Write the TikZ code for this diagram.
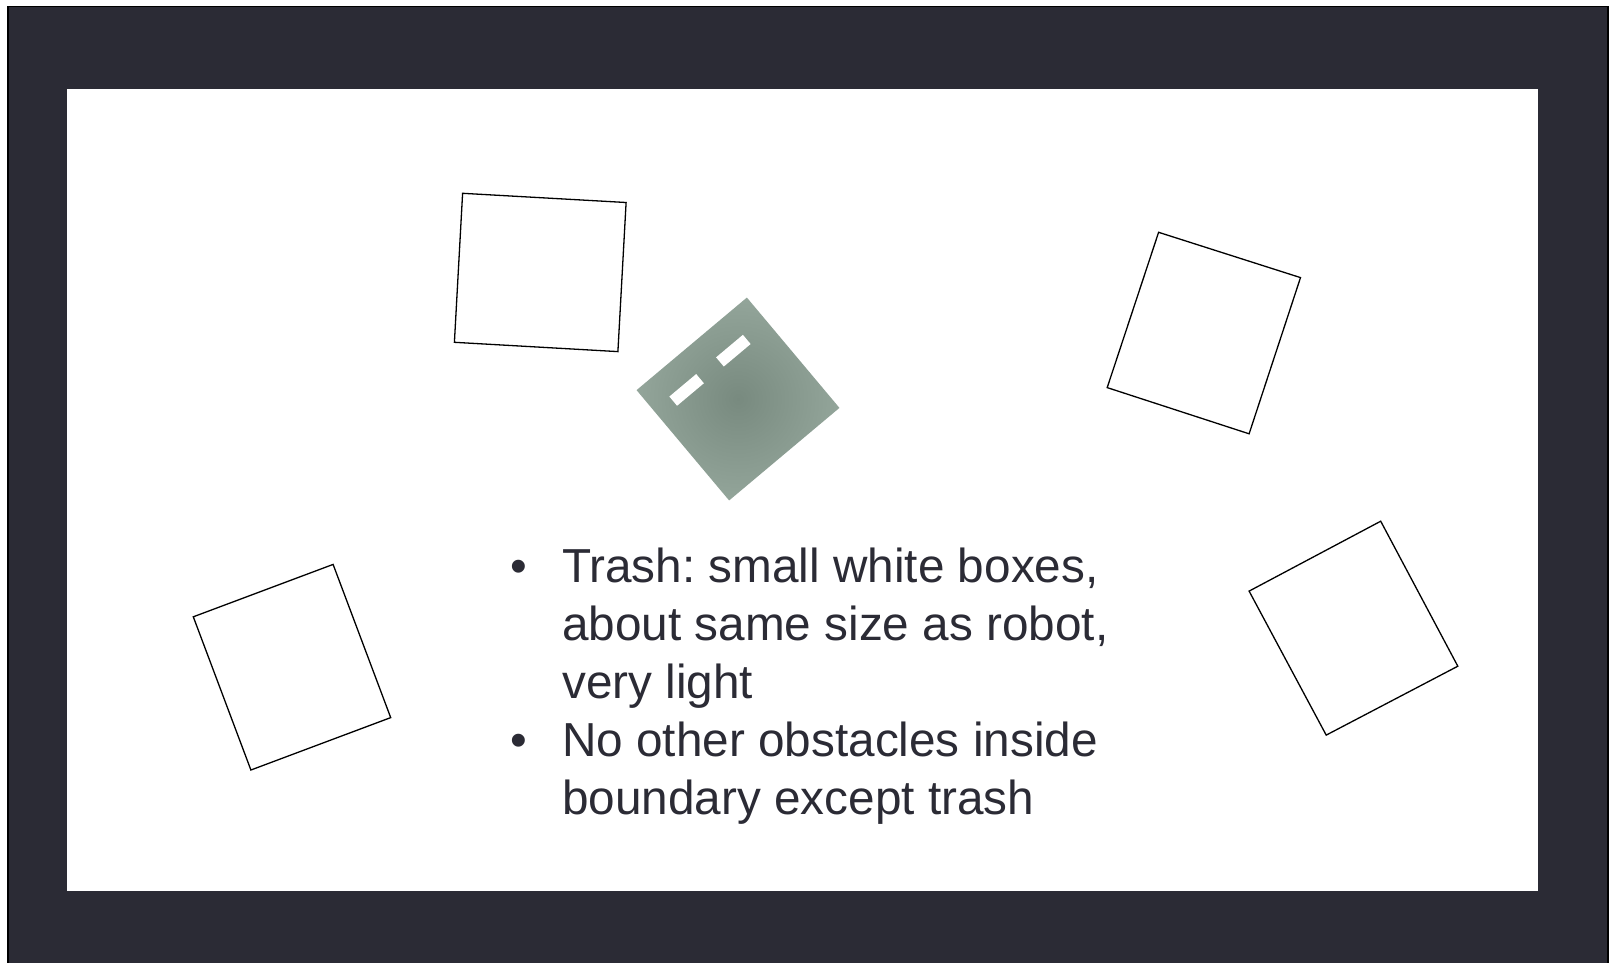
\documentclass[tikz,border=0pt]{standalone}
\usepackage{fontspec}
\setmainfont{Liberation Sans}
\definecolor{frame}{HTML}{2B2B35}
\definecolor{robotin}{HTML}{788A7F}
\definecolor{robotout}{HTML}{93A59A}
\definecolor{txt}{HTML}{2B2B35}
\tikzset{
  trash/.style={draw=black, line width=1.3pt, fill=white, line join=miter},
  line/.style={inner sep=0pt, anchor=base west, text=txt, font=\fontsize{47.7}{57.9}\selectfont},
}
\frenchspacing
\begin{document}
\begin{tikzpicture}[x=1pt,y=-1pt]
\useasboundingbox (0,0) rectangle (1612,962);
\fill[white] (0,0) rectangle (1612,962);
% frame
\draw[fill=frame, draw=black, line width=1.5pt] (8,6.5) rectangle (1608,975);
\fill[white] (67,89) rectangle (1538,891);
% trash boxes
\draw[trash] (462.6,193.3) -- (626.1,202.5) -- (617.9,351.6) -- (454.4,342.3) -- cycle;
\draw[trash] (1158.6,232.3) -- (1300.5,277.6) -- (1249.1,433.8) -- (1107.2,387.6) -- cycle;
\draw[trash] (193.3,616.8) -- (333.1,564.4) -- (390.7,717.6) -- (250.9,770.0) -- cycle;
\draw[trash] (1249.1,591.1) -- (1380.7,521.2) -- (1457.8,666.2) -- (1326.2,735.1) -- cycle;
% robot
\begin{scope}[shift={(738,399)}, rotate=-50]
  \shade[inner color=robotin, outer color=robotout] (-72,-72) rectangle (72,72);
  \fill[white] (-46,-45) rectangle (-34,-10);
  \fill[white] (-46,16) rectangle (-34,51);
\end{scope}
% text
\node[line] (b1) at (510,582) {•};
\node[line] (t1) at (562,582) {Trash: small white boxes,};
\node[line] (t2) at (562,640) {about same size as robot,};
\node[line] (t3) at (562,698) {very light};
\node[line] (b2) at (510,756) {•};
\node[line] (t4) at (562,756) {No other obstacles inside};
\node[line] (t5) at (562,814) {boundary except trash};
\end{tikzpicture}
\end{document}
